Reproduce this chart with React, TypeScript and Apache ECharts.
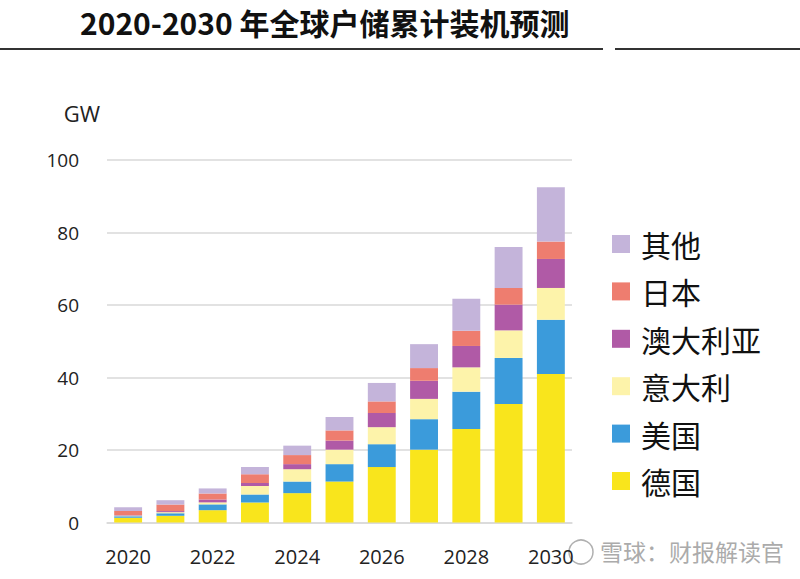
import React, { useEffect, useRef } from "react";
import * as echarts from "echarts";

const years = ["2020", "2021", "2022", "2023", "2024", "2025", "2026", "2027", "2028", "2029", "2030"];
const germany = [1.3, 1.85, 3.4, 5.5, 8.1, 11.3, 15.3, 20.1, 25.8, 32.7, 41.0];
const usa = [0.4, 0.7, 1.6, 2.2, 3.2, 4.8, 6.3, 8.4, 10.3, 12.7, 14.9];
const italy = [0.2, 0.3, 0.55, 2.4, 3.4, 4.0, 4.7, 5.6, 6.7, 7.6, 8.8];
const australia = [0.2, 0.3, 0.8, 0.8, 1.4, 2.5, 3.9, 5.0, 5.9, 7.1, 8.0];
const japan = [1.1, 1.8, 1.65, 2.4, 2.5, 2.8, 3.2, 3.5, 4.2, 4.6, 4.8];
const other = [1.0, 1.2, 1.4, 2.0, 2.6, 3.7, 5.1, 6.6, 8.8, 11.3, 15.0];

const seriesNames = ["德国", "美国", "意大利", "澳大利亚", "日本", "其他"];
const seriesData = [germany, usa, italy, australia, japan, other];
const seriesColors = ["#f9e51c", "#3b9bdb", "#fdf3aa", "#b05aa6", "#ee7d6f", "#c4b4da"];
const legendOrder = ["其他", "日本", "澳大利亚", "意大利", "美国", "德国"];

const titleText = "2020-2030 年全球户储累计装机预测";
const unitText = "GW";
const watermarkText = "雪球：财报解读官";

export default function App() {
  const ref = useRef<HTMLDivElement>(null);
  useEffect(() => {
    const chart = echarts.init(ref.current!, null, { renderer: "svg" });
    chart.setOption({
      animation: false,
      backgroundColor: "#ffffff",
      grid: { left: 107, right: 228, top: 160, bottom: 56.5 },
      legend: {
        orient: "vertical",
        left: 607,
        top: 222,
        data: legendOrder,
        icon: "rect",
        itemWidth: 18,
        itemHeight: 18,
        itemGap: 13.4,
        selectedMode: false,
        textStyle: {
          fontSize: 30,
          lineHeight: 34,
          color: "#111111",
          fontFamily: "Noto Sans CJK SC",
          padding: [0, 0, 0, 6],
        },
      },
      xAxis: {
        type: "category",
        data: years,
        axisTick: { show: false },
        axisLine: { show: true, lineStyle: { color: "#d9d9d9", width: 1.5 } },
        axisLabel: {
          interval: 1,
          margin: 24,
          fontSize: 20,
          color: "#222222",
          fontFamily: "Open Sans",
        },
      },
      yAxis: {
        type: "value",
        min: 0,
        max: 100,
        interval: 20,
        name: unitText,
        nameLocation: "end",
        nameGap: 36,
        nameTextStyle: {
          fontSize: 22,
          color: "#222222",
          fontFamily: "Open Sans",
          align: "center",
          padding: [0, 50, 0, 0],
        },
        axisLine: { show: false },
        axisTick: { show: false },
        axisLabel: {
          margin: 28,
          fontSize: 19,
          color: "#222222",
          fontFamily: "Open Sans",
        },
        splitLine: { lineStyle: { color: "#d9d9d9", width: 1.5 } },
      },
      series: seriesNames.map((name, i) => ({
        name,
        type: "bar",
        stack: "total",
        barCategoryGap: "34%",
        itemStyle: { color: seriesColors[i] },
        data: seriesData[i],
      })),
      graphic: [
        {
          type: "text",
          left: 80,
          top: 7,
          style: {
            text: titleText,
            fontSize: 30,
            fontWeight: "bold",
            fill: "#111111",
            fontFamily: "Noto Sans CJK SC",
          },
        },
        {
          type: "line",
          shape: { x1: 0, y1: 49, x2: 603, y2: 49 },
          style: { stroke: "#333333", lineWidth: 2 },
        },
        {
          type: "line",
          shape: { x1: 615, y1: 49, x2: 800, y2: 49 },
          style: { stroke: "#333333", lineWidth: 2 },
        },
        {
          type: "circle",
          shape: { cx: 581, cy: 552, r: 12 },
          style: { fill: "none", stroke: "#b0b0b0", lineWidth: 1.5 },
        },
        {
          type: "text",
          left: 600,
          top: 539,
          style: {
            text: watermarkText,
            fontSize: 23,
            fill: "#ababab",
            fontFamily: "Noto Sans CJK SC",
          },
        },
      ],
    });
    return () => chart.dispose();
  }, []);
  return <div ref={ref} style={{ position: "fixed", left: 0, top: 0, width: 800, height: 579 }} />;
}
